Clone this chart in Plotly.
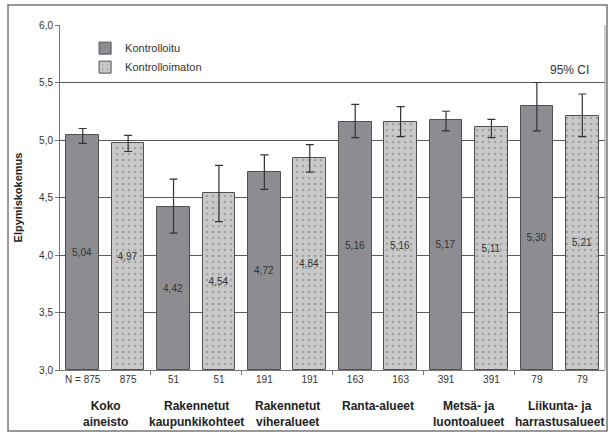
import plotly.graph_objects as go

categories = ["Koko<br>aineisto", "Rakennetut<br>kaupunkikohteet", "Rakennetut<br>viheralueet",
              "Ranta-alueet", "Metsä- ja<br>luontoalueet", "Liikunta- ja<br>harrastusalueet"]
n_values = [875, 51, 191, 163, 391, 79]

kontrolloitu = [5.04, 4.42, 4.72, 5.16, 5.17, 5.30]
kontrolloitu_hi = [5.10, 4.66, 4.87, 5.31, 5.25, 5.50]
kontrolloitu_lo = [4.97, 4.19, 4.57, 5.02, 5.08, 5.08]

kontrolloimaton = [4.97, 4.54, 4.84, 5.16, 5.11, 5.21]
kontrolloimaton_hi = [5.04, 4.78, 4.96, 5.29, 5.18, 5.40]
kontrolloimaton_lo = [4.90, 4.29, 4.72, 5.03, 5.02, 5.03]

yticks = [3.0, 3.5, 4.0, 4.5, 5.0, 5.5, 6.0]
Y_MIN, Y_MAX = 3.0, 6.0

OFF = 0.25
idx = list(range(len(categories)))
x_k = [i - OFF for i in idx]
x_u = [i + OFF for i in idx]

FONT = "Liberation Sans, Arial, sans-serif"


def fmt(v):
    return ("%.2f" % v).replace(".", ",")


fig = go.Figure()
fig.add_trace(go.Bar(
    name="Kontrolloitu", x=x_k, y=[v - Y_MIN for v in kontrolloitu], base=Y_MIN, width=0.36,
    marker=dict(color="#8d8d91", line=dict(color="#505050", width=1)),
    text=[fmt(v) for v in kontrolloitu], textposition="inside",
    insidetextanchor="middle", textangle=0, textfont=dict(size=10, color="#333333"),
    error_y=dict(type="data", symmetric=False,
                 array=[h - m for h, m in zip(kontrolloitu_hi, kontrolloitu)],
                 arrayminus=[m - l for m, l in zip(kontrolloitu, kontrolloitu_lo)],
                 color="#333333", thickness=1.2, width=4),
))
fig.add_trace(go.Bar(
    name="Kontrolloimaton", x=x_u, y=[v - Y_MIN for v in kontrolloimaton], base=Y_MIN, width=0.36,
    marker=dict(color="#c9c9c9", line=dict(color="#505050", width=1),
                pattern=dict(shape=".", fgcolor="#7a7a7a", bgcolor="#c9c9c9", size=6, solidity=0.15)),
    text=[fmt(v) for v in kontrolloimaton], textposition="inside",
    insidetextanchor="middle", textangle=0, textfont=dict(size=10, color="#333333"),
    error_y=dict(type="data", symmetric=False,
                 array=[h - m for h, m in zip(kontrolloimaton_hi, kontrolloimaton)],
                 arrayminus=[m - l for m, l in zip(kontrolloimaton, kontrolloimaton_lo)],
                 color="#333333", thickness=1.2, width=4),
))

tickvals = []
ticktext = []
for i, n in enumerate(n_values):
    tickvals += [x_k[i], x_u[i]]
    ticktext += [("N = %d" % n) if i == 0 else str(n), str(n)]

annotations = []
for i, c in enumerate(categories):
    annotations.append(dict(x=i, y=0, xref="x", yref="paper", yanchor="top", yshift=-27,
                            text="<b>%s</b>" % c, showarrow=False,
                            font=dict(size=12, color="#222222", family=FONT)))
annotations.append(dict(x=5.11, y=5.61, xref="x", yref="y", text="95% CI", showarrow=False,
                        font=dict(size=12, color="#333333", family=FONT)))

fig.update_layout(
    width=608, height=434,
    margin=dict(l=60, r=3, t=25, b=64),
    paper_bgcolor="white", plot_bgcolor="white",
    separators=", ",
    font=dict(family=FONT, size=10, color="#333333"),
    bargap=0, showlegend=True,
    legend=dict(x=0.046, y=0.975, xanchor="left", yanchor="top",
                bgcolor="rgba(0,0,0,0)", font=dict(size=11, color="#333333"),
                tracegroupgap=2, itemwidth=30),
    xaxis=dict(range=[-0.5, 5.5], tickmode="array", tickvals=tickvals, ticktext=ticktext,
               ticks="", showgrid=False, zeroline=False, showline=True, linecolor="#777777",
               tickfont=dict(size=10, color="#333333"),
               minor=dict(tickmode="array", tickvals=[0.5, 1.5, 2.5, 3.5, 4.5], ticks="outside",
                          ticklen=4, tickcolor="#777777", showgrid=False)),
    yaxis=dict(range=[Y_MIN, Y_MAX], tickvals=yticks, tickformat=".1f", ticks="outside", ticklen=4,
               tickcolor="#777777", showgrid=True, gridcolor="#5a5a5a", gridwidth=1,
               zeroline=False, showline=True, linecolor="#777777",
               tickfont=dict(size=10, color="#333333"),
               title=dict(text="<b>Elpymiskokemus</b>", font=dict(size=11, color="#222222"), standoff=14)),
    annotations=annotations,
    shapes=[
        dict(type="line", xref="paper", yref="paper", x0=1, x1=1, y0=0, y1=1,
             line=dict(color="#999999", width=1)),
        dict(type="rect", xref="paper", yref="paper", x0=-0.0954, x1=1.0037, y0=-0.177, y1=1.058,
             line=dict(color="#777777", width=1.5)),
    ],
)

fig.write_html("out.html", config={"displayModeBar": False},
               post_script="document.body.style.margin='0';document.body.style.overflow='hidden';")
